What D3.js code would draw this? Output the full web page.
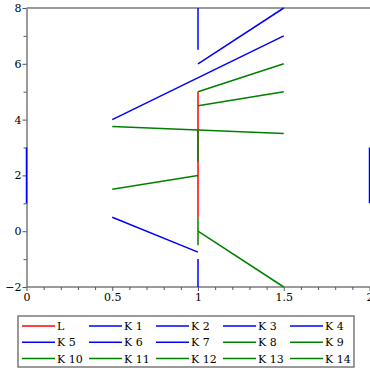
<!DOCTYPE html>
<html><head><meta charset="utf-8">
<script src="https://cdn.jsdelivr.net/npm/d3@7"></script>
<style>body{margin:0;background:#fff}svg{display:block}</style>
</head><body>
<svg id="c" width="370" height="370"></svg>
<script>
const seriesNames = ["L","K 1","K 2","K 3","K 4","K 5","K 6","K 7","K 8","K 9","K 10","K 11","K 12","K 13","K 14"];
const seriesColors = ["#ff0000","#0000ff","#0000ff","#0000ff","#0000ff","#0000ff","#0000ff","#0000ff","#008000","#008000","#008000","#008000","#008000","#008000","#008000"];
// each series: segment endpoints [x, y]
const seriesPoints = [
  [[1,5],[1,0.5]],
  [[1,6.5],[1,8]],
  [[1,6],[1.5,8]],
  [[0.5,4],[1.5,7]],
  [[0,1],[0,3]],
  [[2,1],[2,3]],
  [[0.5,0.5],[1,-0.75]],
  [[1,-1],[1,-2]],
  [[1,5],[1.5,6]],
  [[1,4.5],[1.5,5]],
  [[0.5,3.75],[1.5,3.5]],
  [[1,3.625],[1,2.5]],
  [[0.5,1.5],[1,2]],
  [[1,0.5],[1,-0.5]],
  [[1,0],[1.5,-2]]
];
const xTicks = [0,0.5,1,1.5,2];
const xTickLabels = ["0","0.5","1","1.5","2"];
const xMinor = [0.1,0.2,0.3,0.4,0.6,0.7,0.8,0.9,1.1,1.2,1.3,1.4,1.6,1.7,1.8,1.9];
const yTicks = [-2,0,2,4,6,8];
const yTickLabels = ["\u22122","0","2","4","6","8"];
const yMinor = [-1,1,3,5,7];

const svg = d3.select("#c");
const x = d3.scaleLinear().domain([0,2]).range([26.5,369.5]);
const y = d3.scaleLinear().domain([-2,8]).range([287,8]);
const font = "DejaVu Serif";
const axisColor = "#7a7a7a";

// frame
svg.append("line").attr("x1",x(0)).attr("x2",370).attr("y1",y(8)).attr("y2",y(8)).attr("stroke",axisColor).attr("stroke-width",1.5);

const xAxis = svg.append("g").attr("transform",`translate(0,${y(-2)})`)
  .call(d3.axisBottom(x).tickValues(xTicks).tickFormat((d,i)=>xTickLabels[i]).tickSize(4).tickPadding(2).tickSizeOuter(0));
const xMin = svg.append("g").attr("transform",`translate(0,${y(-2)})`)
  .call(d3.axisBottom(x).tickValues(xMinor).tickFormat("").tickSize(3).tickSizeOuter(0));
const yAxis = svg.append("g").attr("transform",`translate(${x(0)},0)`)
  .call(d3.axisLeft(y).tickValues(yTicks).tickFormat((d,i)=>yTickLabels[i]).tickSize(4).tickPadding(1).tickSizeOuter(0));
const yMin = svg.append("g").attr("transform",`translate(${x(0)},0)`)
  .call(d3.axisLeft(y).tickValues(yMinor).tickFormat("").tickSize(3).tickSizeOuter(0));
[xAxis,xMin,yAxis,yMin].forEach(g=>{
  g.select(".domain").attr("stroke",axisColor).attr("stroke-width",1.5);
  g.selectAll(".tick line").attr("stroke","#555").attr("stroke-width",1);
  g.selectAll("text").attr("font-family",font).attr("font-size",11).attr("fill","#000");
});
xMin.select(".domain").remove(); yMin.select(".domain").remove();
xAxis.select(".domain").attr("d",`M${x(0)},0H370`);

// series
const line = d3.line().x(d=>x(d[0])).y(d=>y(d[1]));
seriesPoints.forEach((pts,i)=>{
  svg.append("path").attr("d",line(pts)).attr("fill","none")
    .attr("stroke",seriesColors[i]).attr("stroke-width",1.5);
});

// legend
const lg = svg.append("g");
lg.append("rect").attr("x",18).attr("y",316).attr("width",336).attr("height",51)
  .attr("fill","none").attr("stroke",axisColor).attr("stroke-width",1.5);
seriesNames.forEach((n,i)=>{
  const col = i%5, row = Math.floor(i/5);
  const lx = 22 + col*67, ly = 326 + row*16.3;
  lg.append("line").attr("x1",lx).attr("x2",lx+33).attr("y1",ly).attr("y2",ly)
    .attr("stroke",seriesColors[i]).attr("stroke-width",1.5);
  lg.append("text").attr("x",lx+35).attr("y",ly+4).text(n)
    .attr("font-family",font).attr("font-size",11).attr("fill","#000");
});
</script>
</body></html>
